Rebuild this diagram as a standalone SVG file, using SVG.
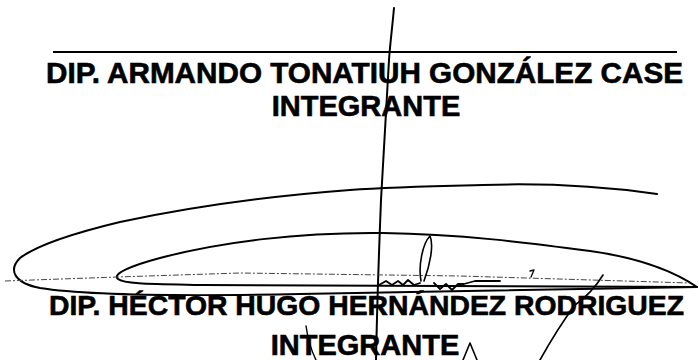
<svg xmlns="http://www.w3.org/2000/svg" width="699" height="360" viewBox="0 0 699 360">
<style>
.t{font-family:"Liberation Sans",Arial,sans-serif;font-weight:bold;fill:#000;stroke:#000;stroke-width:0.6;}
.s{fill:none;stroke:#000;stroke-linecap:round;stroke-linejoin:round;}
</style>
<rect width="699" height="360" fill="#fff"/>
<g id="firma1">
<line x1="53" y1="52" x2="677" y2="52" stroke="#000" stroke-width="2.2"/>
<text class="t" x="46" y="83" font-size="29" textLength="637" lengthAdjust="spacingAndGlyphs">DIP. ARMANDO TONATIUH GONZÁLEZ CASE</text>
<text class="t" x="366" y="116" font-size="29" text-anchor="middle">INTEGRANTE</text>
</g>
<g id="firma2">
<text class="t" x="49" y="315" font-size="28.5" textLength="635" lengthAdjust="spacingAndGlyphs">DIP. HÉCTOR HUGO HERNÁNDEZ RODRIGUEZ</text>
<text class="t" x="365" y="355" font-size="29" text-anchor="middle">INTEGRANTE</text>
</g>
<g id="rubricas">
<path class="s" stroke-width="2" d="M394,8 C392,30 390,45 389,60 C386,110 383,160 381,200 C379,250 377,310 376,360"/>
<path class="s" stroke-width="2" d="M657,194 C600,186 540,183 483,185 C440,186 390,187 350,190 C270,196 190,207 120,222 C70,234 36,246 20,258 C8,270 14,283 40,288 C90,296 200,296 300,294 C430,291 580,290 697,287"/>
<path class="s" stroke-width="2" d="M697,287 C675,272 640,258 590,251 C530,243 460,234 383,233 C300,232 220,242 160,258 C130,266 112,274 118,279 C124,284 150,284 200,285 C350,286 520,285 697,287"/>
<path fill="none" stroke="#444" stroke-width="1" stroke-dasharray="6,2,2,2" d="M5,281 L117,277 L240,273 L460,276 L690,283"/>
<path class="s" stroke-width="1.6" d="M421,281 C418,265 423,243 430,236 C434,245 430,265 424,281"/>
<path class="s" stroke-width="1.8" d="M379,285 L386,281 L392,285 L398,281 L403,285 L408,280 L414,285 L420,283 M434,283 L440,289 L446,284 L452,290 L458,284 L464,284 L475,281 L500,281"/>
<path class="s" stroke-width="1.3" d="M530,271 L534,270 L531,277"/>
<path class="s" stroke-width="1.6" d="M603,275 C595,288 585,298 575,305 C560,325 550,342 540,360"/>
<path class="s" stroke-width="1.4" d="M306,326 C308,340 311,350 316,360"/>
<path class="s" stroke-width="1.6" d="M463,360 L470,343 L477,360"/>
</g>
</svg>
